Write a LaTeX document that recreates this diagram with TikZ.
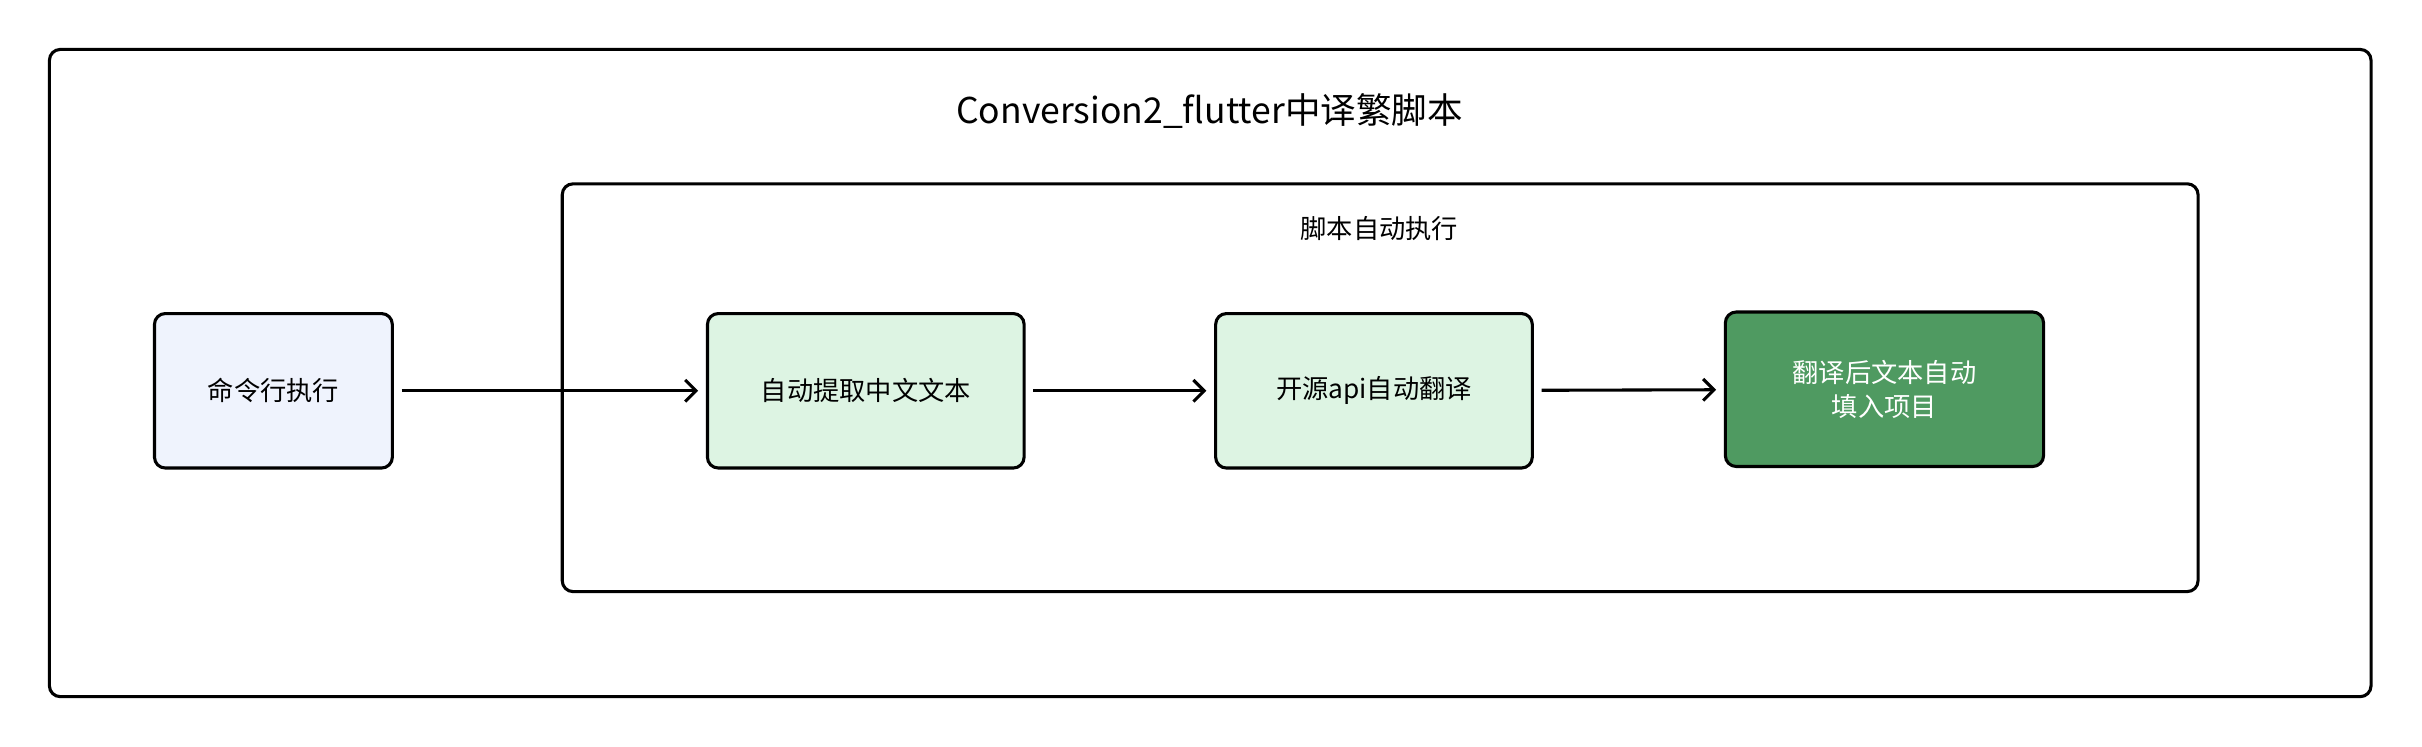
\documentclass[tikz,border=0pt]{standalone}
\usepackage{fontspec}
\setmainfont{Noto Sans CJK SC}
\usetikzlibrary{arrows.meta}
\definecolor{lblue}{HTML}{EFF3FD}
\definecolor{lgreen}{HTML}{DDF4E3}
\definecolor{dgreen}{HTML}{4F9A61}
\begin{document}
\begin{tikzpicture}[x=1pt,y=-1pt,
  frame/.style={draw=black,line width=2pt,rounded corners=7pt},
  proc/.style={draw=black,line width=2pt,rounded corners=7pt,minimum width=154pt,minimum height=100pt,anchor=north west,font=\fontsize{17}{22}\selectfont,align=center},
  conn/.style={line width=2pt,-{Straight Barb[length=7pt,width=14pt,line width=2pt]},shorten >=5pt,shorten <=5pt}]
\useasboundingbox (0,0) rectangle (1568,483.6);
\draw[frame] (32,32) rectangle (1535,451);
\node (title) at (783,72) {\fontsize{23}{28}\selectfont Conversion2\_flutter中译繁脚本};
\draw[frame] (364,119) rectangle (1423,383);
\node (sub) at (893,148) {\fontsize{17}{22}\selectfont 脚本自动执行};
\node[proc,fill=lblue] (a) at (99,202) {命令行执行};
\node[proc,fill=lgreen,minimum width=205pt] (b) at (457,202) {自动提取中文文本};
\node[proc,fill=lgreen,minimum width=205pt] (c) at (786,202) {开源api自动翻译};
\node[proc,fill=dgreen,minimum width=206pt,text=white] (d) at (1116,201) {翻译后文本自动\\填入项目};
\draw[conn] (a) -- (b);
\draw[conn] (b) -- (c);
\draw[conn] (c) -- (d);
\end{tikzpicture}
\end{document}
